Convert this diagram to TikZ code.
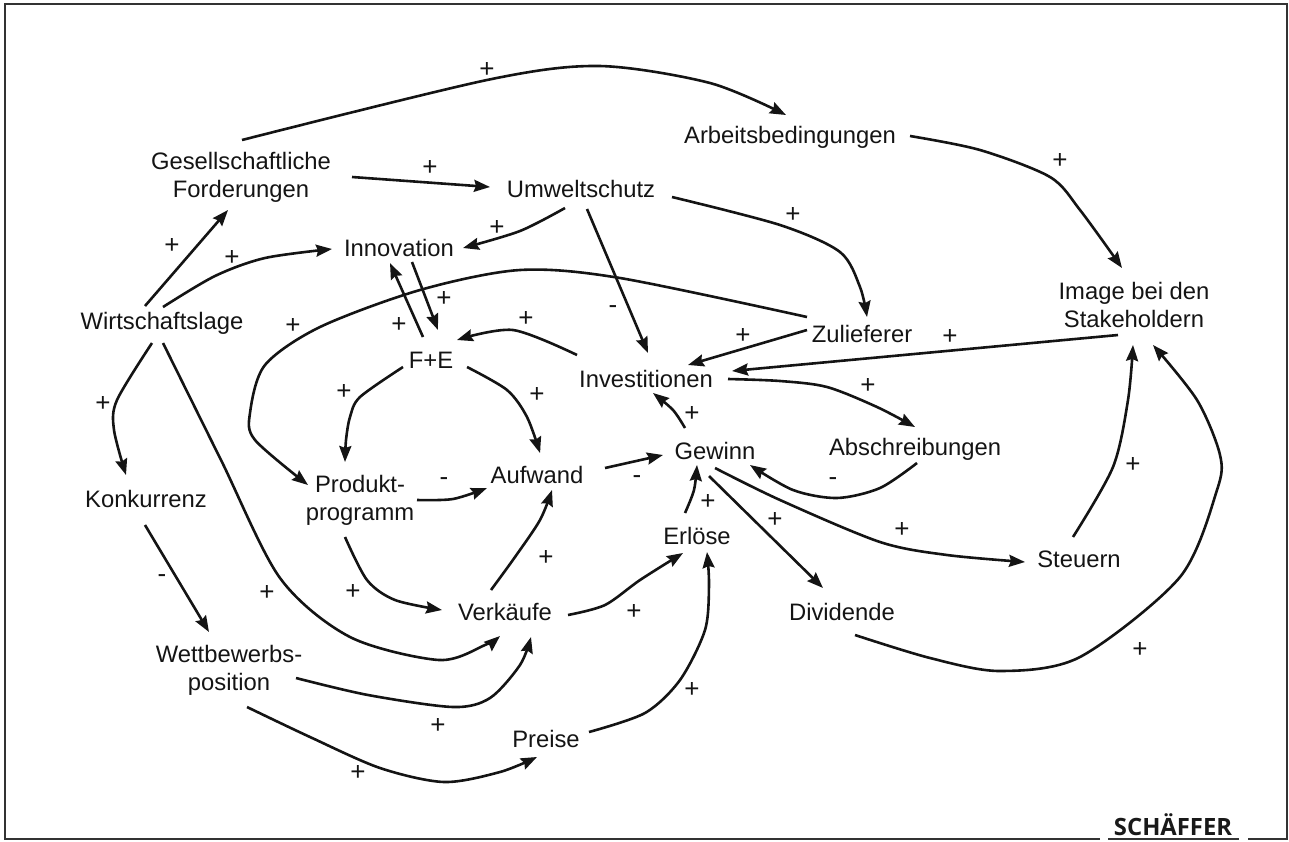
\documentclass[tikz,border=0pt]{standalone}
\usepackage{fontspec}
\setmainfont{Liberation Sans}
\newfontfamily\logofont{Open Sans}
\usetikzlibrary{arrows.meta,calc}
\begin{document}
\begin{tikzpicture}[x=1pt,y=-1pt,
  lbl/.style={font=\fontsize{23.8}{28}\selectfont, text=black!92, inner sep=0pt, text height=17pt, text depth=0pt},
  lbltwo/.style={font=\fontsize{23.8}{28}\selectfont, text=black!92, inner sep=0pt, align=center},
  sgn/.style={font=\fontsize{26}{30}\selectfont, text=black!92, inner sep=0pt},
  con/.style={line width=2.6pt, draw=black!92, -{Stealth[length=16pt,width=12pt,inset=2pt]}},
  frame/.style={line width=2.2pt, draw=black!80}]
\useasboundingbox (0,0) rectangle (1289,841);

% frame with a gap for the publisher's mark
\draw[frame] (1100,839) -- (5,839) -- (5,4) -- (1287,4) -- (1287,839) -- (1248,839);
\draw[frame] (1108,839) -- (1239,839);
\node[font=\logofont\bfseries\fontsize{23.8}{28}\selectfont, text=black!90, anchor=base, inner sep=0pt] (logo) at (1173,835) {SCHÄFFER};

% factors
\node[lbl] (wirt) at (162,321) {Wirtschaftslage};
\node[lbltwo] (ges) at (241,177) {Gesellschaftliche\\Forderungen};
\node[lbl] (arb) at (790,135) {Arbeitsbedingungen};
\node[lbl] (umw) at (581,189) {Umweltschutz};
\node[lbl] (inno) at (399,248) {Innovation};
\node[lbl] (fe) at (431,360) {F+E};
\node[lbl] (inv) at (646,379) {Investitionen};
\node[lbl] (zul) at (862,334) {Zulieferer};
\node[lbltwo] (img) at (1134,305) {Image bei den\\Stakeholdern};
\node[lbl] (abs) at (915,447) {Abschreibungen};
\node[lbl] (gew) at (715,451) {Gewinn};
\node[lbl] (auf) at (537,475) {Aufwand};
\node[lbltwo] (prod) at (360,500) {Produkt-\\programm};
\node[lbl] (erl) at (697,536) {Erlöse};
\node[lbl] (konk) at (146,499) {Konkurrenz};
\node[lbl] (verk) at (505,612) {Verkäufe};
\node[lbl] (preis) at (546,739) {Preise};
\node[lbl] (div) at (842,612) {Dividende};
\node[lbl] (steu) at (1079,559) {Steuern};
\node[lbltwo] (wett) at (229,670) {Wettbewerbs-\\position};

% influences
\draw[con] plot[smooth] coordinates {($(ges)+(1,-37)$) (487,80) (599,66) (710,83) ($(arb)+(-4,-20)$)};
\draw[con] ($(ges)+(111,0)$) -- ($(umw)+(-91,-2)$);
\draw[con] ($(wirt)+(-17,-15)$) -- ($(ges)+(-13,33)$);
\draw[con] plot[smooth] coordinates {($(wirt)+(1,-14)$) (215,276) (265,258) ($(inno)+(-67,1)$)};
\draw[con] plot[smooth] coordinates {($(umw)+(-16,19)$) (520,231) ($(inno)+(64,0)$)};
\draw[con] ($(umw)+(6,20)$) -- ($(inv)+(2,-26)$);
\draw[con] plot[smooth] coordinates {($(umw)+(91,8)$) (780,225) (840,252) (860,287) ($(zul)+(5,-17)$)};
\draw[con] plot[smooth] coordinates {($(arb)+(120,1)$) (980,150) (1050,177) (1080,210) ($(img)+(-12,-37)$)};
\draw[con] ($(img)+(-16,30)$) -- ($(inv)+(86,-8)$);
\draw[con] ($(zul)+(-55,-4)$) -- ($(inv)+(42,-14)$);
\draw[con] plot[smooth] coordinates {($(zul)+(-55,-17)$) (620,278) (520,270) (420,290) (320,327) (265,365) (250,413) (255,440) ($(prod)+(-52,-15)$)};
\draw[con] ($(inno)+(13,14)$) -- ($(fe)+(7,-30)$);
\draw[con] ($(fe)+(-8,-23)$) -- ($(inno)+(-9,15)$);
\draw[con] plot[smooth] coordinates {($(inv)+(-69,-24)$) (513,330) ($(fe)+(26,-20)$)};
\draw[con] plot[smooth] coordinates {($(fe)+(-28,7)$) (360,397) (350,417) (346,440) ($(prod)+(-15,-38)$)};
\draw[con] plot[smooth] coordinates {($(fe)+(36,7)$) (507,390) (527,417) ($(auf)+(3,-22)$)};
\draw[con] plot[smooth] coordinates {($(prod)+(57,0)$) (453,499) ($(auf)+(-50,13)$)};
\draw[con] plot[smooth] coordinates {($(prod)+(-15,37)$) (367,580) (395,600) ($(verk)+(-63,-2)$)};
\draw[con] plot[smooth] coordinates {($(verk)+(-14,-22)$) (515,557) (540,520) ($(auf)+(15,15)$)};
\draw[con] ($(auf)+(68,-7)$) -- ($(gew)+(-52,4)$);
\draw[con] plot[smooth] coordinates {($(gew)+(-30,-23)$) (673,410) ($(inv)+(7,14)$)};
\draw[con] plot[smooth] coordinates {($(inv)+(82,0)$) (780,381) (827,387) (877,407) ($(abs)+(0,-20)$)};
\draw[con] plot[smooth] coordinates {($(abs)+(2,16)$) (880,488) (837,498) (793,490) ($(gew)+(35,14)$)};
\draw[con] plot[smooth] coordinates {($(erl)+(-12,-23)$) (694,490) ($(gew)+(-18,14)$)};
\draw[con] ($(gew)+(-6,25)$) -- ($(div)+(-19,-24)$);
\draw[con] plot[smooth] coordinates {($(gew)+(0,17)$) (780,500) (880,542) (947,555) ($(steu)+(-54,3)$)};
\draw[con] plot[smooth] coordinates {($(steu)+(-6,-22)$) (1113,467) (1128,400) ($(img)+(-1,40)$)};
\draw[con] plot[smooth] coordinates {($(div)+(13,23)$) (930,658) (1000,671) (1080,657) (1180,577) (1217,490) (1220,455) (1197,400) ($(img)+(19,40)$)};
\draw[con] plot[smooth] coordinates {($(wirt)+(-10,22)$) (117,400) (114,430) ($(konk)+(-20,-24)$)};
\draw[con] ($(konk)+(-1,26)$) -- ($(wett)+(-20,-38)$);
\draw[con] plot[smooth] coordinates {($(wirt)+(1,22)$) (221,460) (280,578) (350,637) (439,660) (485,645) ($(verk)+(-5,24)$)};
\draw[con] plot[smooth] coordinates {($(wett)+(67,8)$) (368,695) (453,707) (490,698) (520,665) ($(verk)+(26,25)$)};
\draw[con] plot[smooth] coordinates {($(wett)+(18,37)$) (310,737) (380,768) (444,782) (500,772) ($(preis)+(-9,18)$)};
\draw[con] plot[smooth] coordinates {($(preis)+(43,-7)$) (645,713) (680,680) (705,630) (709,585) ($(erl)+(10,16)$)};
\draw[con] plot[smooth] coordinates {($(verk)+(63,3)$) (605,605) (640,580) ($(erl)+(-14,17)$)};

% polarity signs
\node[sgn] (s1) at (487,70) {+};
\node[sgn] (s2) at (430,168) {+};
\node[sgn] (s3) at (172,246) {+};
\node[sgn] (s4) at (232,258) {+};
\node[sgn] (s5) at (497,228) {+};
\node[sgn] (s6) at (613,310) {-};
\node[sgn] (s7) at (793,215) {+};
\node[sgn] (s8) at (1060,161) {+};
\node[sgn] (s9) at (950,337) {+};
\node[sgn] (s10) at (743,336) {+};
\node[sgn] (s11) at (293,326) {+};
\node[sgn] (s12) at (444,299) {+};
\node[sgn] (s13) at (399,325) {+};
\node[sgn] (s14) at (526,319) {+};
\node[sgn] (s15) at (344,392) {+};
\node[sgn] (s16) at (537,395) {+};
\node[sgn] (s17) at (444,482) {-};
\node[sgn] (s18) at (353,592) {+};
\node[sgn] (s19) at (546,558) {+};
\node[sgn] (s20) at (637,480) {-};
\node[sgn] (s21) at (692,414) {+};
\node[sgn] (s22) at (868,386) {+};
\node[sgn] (s23) at (833,482) {-};
\node[sgn] (s24) at (708,502) {+};
\node[sgn] (s25) at (775,520) {+};
\node[sgn] (s26) at (902,530) {+};
\node[sgn] (s27) at (1133,465) {+};
\node[sgn] (s28) at (1140,650) {+};
\node[sgn] (s29) at (103,404) {+};
\node[sgn] (s30) at (162,579) {-};
\node[sgn] (s31) at (267,593) {+};
\node[sgn] (s32) at (438,726) {+};
\node[sgn] (s33) at (358,773) {+};
\node[sgn] (s34) at (692,690) {+};
\node[sgn] (s35) at (634,612) {+};
\end{tikzpicture}
\end{document}
